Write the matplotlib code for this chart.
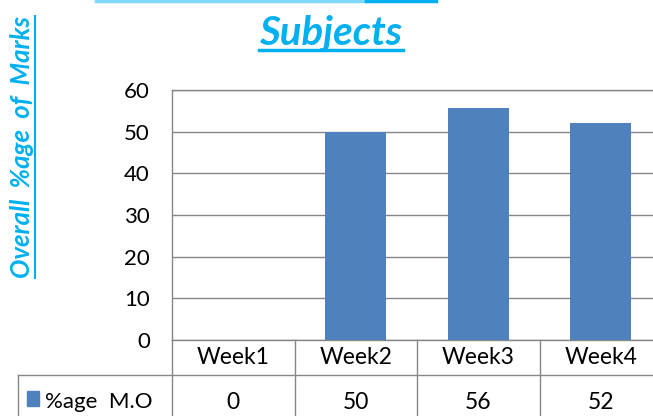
import numpy as np
import matplotlib.pyplot as plt
from matplotlib.lines import Line2D
from matplotlib.patches import Rectangle

plt.rcParams['font.family'] = ['Lato', 'DejaVu Sans']

# data
weeks = ['Week1', 'Week2', 'Week3', 'Week4']
marks = [0, 50, 55.6, 52]
table_vals = ['0', '50', '56', '52']
series_name = '%age  M.O'
title = 'Subjects'
ylabel = 'Overall  %age  of  Marks'

bar_col = '#4F81BD'
grid_col = '#868686'
txt_blue = '#00B0F0'

W, H = 653, 416
fig = plt.figure(figsize=(W / 100, H / 100), dpi=100)
# axes runs past the right edge like the cropped original
ax = fig.add_axes([172 / W, 76 / H, 490 / W, 250 / H])

x = np.arange(len(weeks))
ax.bar(x, marks, width=0.5, color=bar_col, zorder=3)
ax.set_xlim(-0.5, len(weeks) - 0.5)
ax.set_ylim(0, 60)
ax.set_yticks(range(0, 61, 10))
ax.yaxis.grid(True, color=grid_col, lw=1, zorder=0)
ax.set_xticks([])
ax.tick_params(axis='y', length=0, pad=16, labelsize=16)
for s in ax.spines.values():
    s.set_color(grid_col)
    s.set_linewidth(1)

# data table under the plot
tr = ax.get_xaxis_transform()
row1 = -35 / 250
row2 = -80 / 250
left_cell = -0.5 - 154 / 122.5
ax.add_line(Line2D([left_cell, 4], [row1, row1], transform=tr, color=grid_col, lw=1, clip_on=False))
ax.add_line(Line2D([left_cell, left_cell], [row1, row2], transform=tr, color=grid_col, lw=1, clip_on=False))
for b in np.arange(-0.5, len(weeks), 1.0):
    ax.add_line(Line2D([b, b], [0, row2], transform=tr, color=grid_col, lw=1, clip_on=False))
for i, w in enumerate(weeks):
    ax.text(i, -0.07, w, transform=tr, ha='center', va='center', fontsize=16.5, clip_on=False)
    ax.text(i, -0.25, table_vals[i], transform=tr, ha='center', va='center', fontsize=16.5, clip_on=False)
ax.add_patch(Rectangle((left_cell + 0.07, -0.265), 0.105, 0.06, transform=tr,
                       color=bar_col, clip_on=False))
ax.text(left_cell + 0.22, -0.25, series_name, transform=tr, ha='left', va='center',
        fontsize=16, clip_on=False)

# titles (blue, bold italic, underlined)
t = fig.text(331 / W, 1 - 34 / H, title, ha='center', va='center', fontsize=29,
             fontweight='bold', fontstyle='italic', color=txt_blue)
yl = fig.text(22 / W, 1 - 147 / H, ylabel, ha='center', va='center', rotation=90,
              fontsize=18.5, fontweight='bold', fontstyle='italic', color=txt_blue)

fig.canvas.draw()
r = fig.canvas.get_renderer()
inv = fig.transFigure.inverted()
bb = t.get_window_extent(r).transformed(inv)
fig.add_artist(Line2D([bb.x0, bb.x1], [bb.y0 + 0.005, bb.y0 + 0.005], color=txt_blue, lw=2.5))
bb = yl.get_window_extent(r).transformed(inv)
fig.add_artist(Line2D([bb.x1 + 0.002, bb.x1 + 0.002], [bb.y0, bb.y1], color=txt_blue, lw=1.5))
# underline of the first title line, cut off at the top
fig.add_artist(Line2D([96 / W, 366 / W], [0.998, 0.998], color='#80D8F8', lw=2.5))
fig.add_artist(Line2D([366 / W, 436 / W], [0.998, 0.998], color=txt_blue, lw=2.5))

fig.savefig('out.png', dpi=100)
